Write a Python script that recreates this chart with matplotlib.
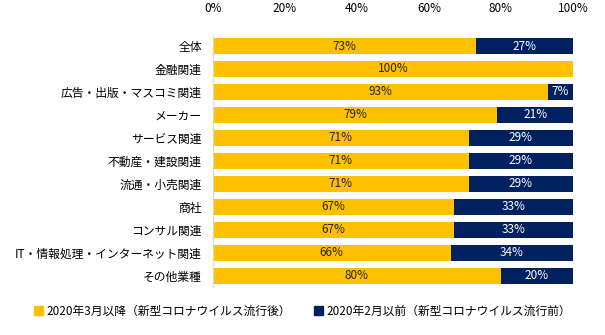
import matplotlib
matplotlib.use("Agg")
from matplotlib import pyplot as plt
from matplotlib.patches import Patch

plt.rcParams['font.family'] = ['Noto Sans CJK JP', 'DejaVu Sans']

categories = ["全体", "金融関連", "広告・出版・マスコミ関連", "メーカー", "サービス関連",
              "不動産・建設関連", "流通・小売関連", "商社", "コンサル関連",
              "IT・情報処理・インターネット関連", "その他業種"]
after = [73, 100, 93, 79, 71, 71, 71, 67, 67, 66, 80]
before = [27, 0, 7, 21, 29, 29, 29, 33, 33, 34, 20]
series_names = ["2020年3月以降（新型コロナウイルス流行後）", "2020年2月以前（新型コロナウイルス流行前）"]
ticks = [0, 20, 40, 60, 80, 100]

yellow = "#FFC000"
navy = "#002060"

fig = plt.figure(figsize=(6.05, 3.35), dpi=100)
ax = fig.add_axes([0.352, 0.142, 0.595, 0.755])

y = list(range(len(categories)))
ax.barh(y, after, height=0.68, color=yellow)
ax.barh(y, before, left=after, height=0.68, color=navy)

for i in y:
    ax.text(after[i] / 2, i, f"{after[i]}%", ha="center", va="center", fontsize=8.5, color="#222222")
    if before[i] > 0:
        ax.text(after[i] + before[i] / 2, i, f"{before[i]}%", ha="center", va="center",
                fontsize=8.5, color="white")

ax.set_ylim(len(categories) - 0.5, -0.5)
ax.set_xlim(0, 100)
ax.set_yticks(y)
ax.set_yticklabels(categories, fontsize=8.5)
ax.set_xticks(ticks)
ax.set_xticklabels([f"{t}%" for t in ticks], fontsize=8.5)
ax.xaxis.tick_top()
ax.tick_params(length=0, pad=8)
ax.tick_params(axis="x", pad=14)
for s in ["top", "right", "bottom"]:
    ax.spines[s].set_visible(False)
ax.spines["left"].set_color("#d9d9d9")

handles = [Patch(color=yellow), Patch(color=navy)]
fig.legend(handles, series_names, loc="lower center", bbox_to_anchor=(0.5, 0.02), ncol=2,
           frameon=False, fontsize=8.5, handlelength=0.7, handleheight=0.7,
           handletextpad=0.3, columnspacing=2.0)

fig.savefig("out.png", dpi=100)
